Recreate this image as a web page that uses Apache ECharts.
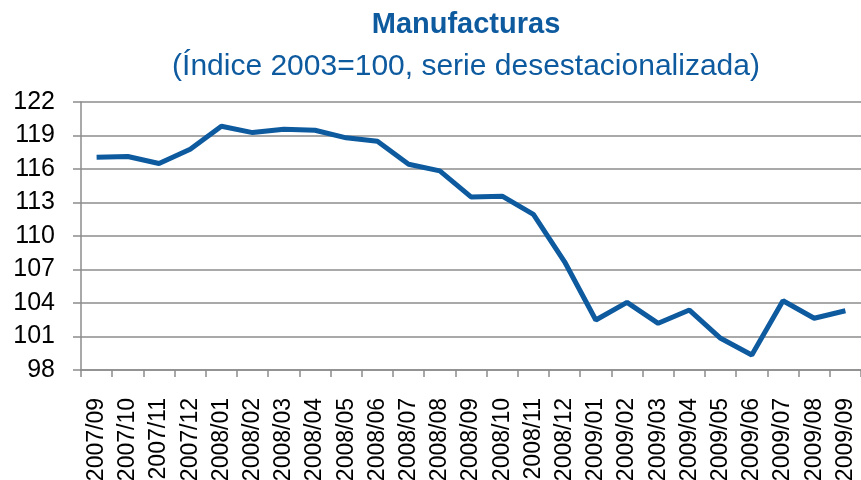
<!DOCTYPE html>
<html>
<head>
<meta charset="utf-8">
<script src="https://cdn.jsdelivr.net/npm/echarts@6/dist/echarts.min.js"></script>
<style>
  html, body { margin: 0; padding: 0; background: #fff; }
  #chart { width: 861px; height: 480px; }
</style>
</head>
<body>
<div id="chart"></div>
<script>
const months = [
  "2007/09", "2007/10", "2007/11", "2007/12", "2008/01", "2008/02", "2008/03",
  "2008/04", "2008/05", "2008/06", "2008/07", "2008/08", "2008/09", "2008/10",
  "2008/11", "2008/12", "2009/01", "2009/02", "2009/03", "2009/04", "2009/05",
  "2009/06", "2009/07", "2009/08", "2009/09"
];
const indexValues = [
  117.05, 117.12, 116.49, 117.77, 119.83, 119.26, 119.56,
  119.47, 118.79, 118.48, 116.43, 115.83, 113.5, 113.57,
  111.93, 107.69, 102.48, 104.06, 102.18, 103.37, 100.84,
  99.34, 104.2, 102.63, 103.31
];
const yTicks = [98, 101, 104, 107, 110, 113, 116, 119, 122];

const blue = "#0D5A9F";
const gray = "#8C8C8C";
const font = "'Liberation Sans', Arial, sans-serif";

const chart = echarts.init(document.getElementById("chart"));

chart.setOption({
  animation: false,
  title: [
    {
      text: "Manufacturas",
      left: 461,
      top: 5,
      textAlign: "center",
      textStyle: { color: blue, fontSize: 29, fontWeight: "bold", fontFamily: font }
    },
    {
      text: "(Índice 2003=100, serie desestacionalizada)",
      left: 461,
      top: 47,
      textAlign: "center",
      textStyle: { color: blue, fontSize: 30, fontWeight: "normal", fontFamily: font }
    }
  ],
  grid: {
    left: 81, right: 0, top: 102, bottom: 110,
    containLabel: false,
    outerBoundsMode: "none"
  },
  xAxis: {
    type: "category",
    data: months,
    boundaryGap: true,
    axisLine: { lineStyle: { color: gray, width: 1.5 } },
    axisTick: { show: true, length: 7, lineStyle: { color: gray, width: 1.5 } },
    axisLabel: {
      rotate: 90,
      interval: 0,
      margin: 28,
      color: "#000",
      fontSize: 23,
      fontFamily: font
    },
    splitLine: { show: false }
  },
  yAxis: {
    type: "value",
    min: 98,
    max: 122,
    interval: 3,
    axisLine: { show: true, lineStyle: { color: gray, width: 1.5 } },
    axisTick: { show: true, length: 8, customValues: yTicks, lineStyle: { color: gray, width: 1.5 } },
    axisLabel: {
      customValues: yTicks,
      margin: 26,
      color: "#000",
      fontSize: 25,
      fontFamily: font
    },
    splitLine: { show: true, lineStyle: { color: gray, width: 1.5 } }
  },
  series: [
    {
      name: "Manufacturas",
      type: "line",
      data: indexValues,
      symbol: "none",
      lineStyle: { color: blue, width: 5 },
      itemStyle: { color: blue }
    }
  ]
});
</script>
</body>
</html>
